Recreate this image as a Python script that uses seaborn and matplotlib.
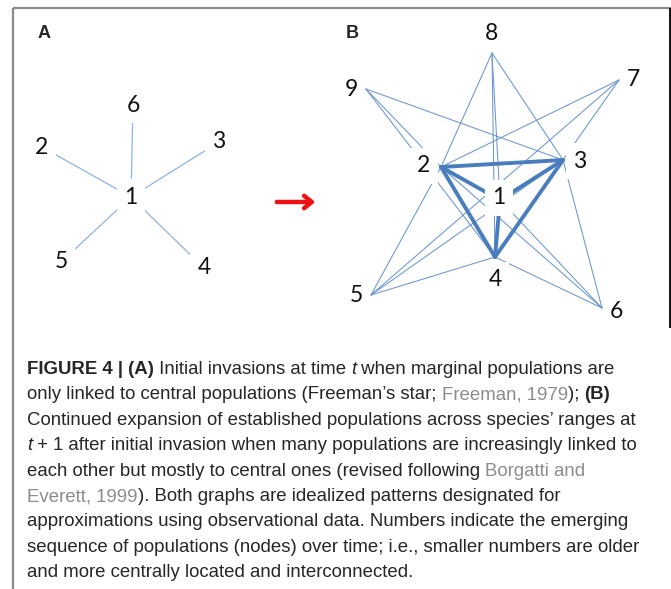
import matplotlib
matplotlib.use("Agg")
import matplotlib.pyplot as plt
import seaborn as sns
import pandas as pd


# --- panel A: Freeman's star (node = where the number sits) ---
a_labels = ["1", "2", "3", "4", "5", "6"]
a_x = [131, 42, 219, 204, 61, 133]
a_y = [197, 147, 142, 268, 262, 105]
a_edges = [("1", "2"), ("1", "3"), ("1", "4"), ("1", "5"), ("1", "6")]

# --- panel B: line anchors of the nodes and the spots of their numbers ---
b_labels = ["1", "2", "3", "4", "5", "6", "7", "8", "9"]
b_x = [500, 441, 563, 495, 371, 602, 619, 492, 366]
b_y = [200, 167, 160, 257, 295, 308, 80, 53, 89]
b_text_x = [499, 424, 580, 495, 356, 616, 633, 491, 351]
b_text_y = [198, 166, 161, 280, 296, 312, 80, 33, 90]
b_masked = ["1", "2", "3", "4"]  # numbers that sit on a white patch over the lines
b_thin = [("8", "2"), ("8", "3"), ("8", "1"), ("8", "4"),
          ("9", "2"), ("9", "4"), ("9", "3"),
          ("7", "2"), ("7", "5"), ("7", "4"),
          ("5", "2"), ("5", "3"), ("5", "4"),
          ("6", "3"), ("6", "2"), ("6", "1"), ("6", "4")]
b_thick = [("2", "3"), ("2", "4"), ("3", "4"), ("2", "1"), ("3", "1"), ("4", "1")]

# --- caption, one list of (text, style) runs per printed line ---
caption = [
    [("FIGURE 4 | (A)", "b"), (" Initial invasions at time ", "n"), ("t", "i"),
     (" when marginal populations are", "n")],
    [("only linked to central populations (Freeman\u2019s star; ", "n"), ("Freeman, 1979", "g"),
     ("); ", "n"), ("(B)", "b")],
    [("Continued expansion of established populations across species\u2019 ranges at", "n")],
    [("t", "i"), (" + 1 after initial invasion when many populations are increasingly linked to", "n")],
    [("each other but mostly to central ones (revised following ", "n"), ("Borgatti and", "g")],
    [("Everett, 1999", "g"), ("). Both graphs are idealized patterns designated for", "n")],
    [("approximations using observational data. Numbers indicate the emerging", "n")],
    [("sequence of populations (nodes) over time; i.e., smaller numbers are older", "n")],
    [("and more centrally located and interconnected.", "n")],
]


def edge_frame(edges, names, xs, ys):
    pos = dict(zip(names, zip(xs, ys)))
    rows = []
    for i, (a, b) in enumerate(edges):
        for n in (a, b):
            rows.append({"edge": i, "x": pos[n][0], "y": pos[n][1]})
    return pd.DataFrame(rows)


sns.set_style("white")
fig = plt.figure(figsize=(6.71, 5.89), dpi=100)
ax = fig.add_axes([0, 0, 1, 1])

# edges
sns.lineplot(data=edge_frame(a_edges, a_labels, a_x, a_y), x="x", y="y", units="edge",
             estimator=None, sort=False, color="#8db4e2", linewidth=0.9, ax=ax)
sns.lineplot(data=edge_frame(b_thin, b_labels, b_x, b_y), x="x", y="y", units="edge",
             estimator=None, sort=False, color="#6a96d1", linewidth=0.75, ax=ax)
sns.lineplot(data=edge_frame(b_thick, b_labels, b_x, b_y), x="x", y="y", units="edge",
             estimator=None, sort=False, color="#4a7dbd", linewidth=2.8, ax=ax,
             solid_capstyle="round")

num_font = dict(family="Lato", fontsize=16.5, ha="center", va="center", color="#111111", zorder=5)
mask = dict(boxstyle="square,pad=0.33", fc="white", ec="none")
for lab, x, y in zip(a_labels, a_x, a_y):
    ax.text(x, y, lab, bbox=mask, **num_font)
for lab, x, y in zip(b_labels, b_text_x, b_text_y):
    ax.text(x, y, lab, bbox=mask if lab in b_masked else None, **num_font)

ax.text(44, 34, "A", family="Liberation Sans", fontweight="bold", fontsize=13,
        ha="center", va="center")
ax.text(352, 34, "B", family="Liberation Sans", fontweight="bold", fontsize=13,
        ha="center", va="center")

# red arrow between the panels
ax.annotate("", xy=(318, 202), xytext=(274, 202),
            arrowprops=dict(arrowstyle="->,head_length=0.55,head_width=0.45",
                            color="#ee1111", lw=3.2))

# frame lines of the figure box
ax.plot([13, 671], [8, 8], color="#8a8a8a", lw=1.6, solid_capstyle="butt")
ax.plot([13, 13], [8, 589], color="#8a8a8a", lw=1.6, solid_capstyle="butt")
ax.plot([670, 670], [8, 328], color="#111111", lw=1.4, solid_capstyle="butt")

ax.set_xlim(0, 671)
ax.set_ylim(589, 0)
ax.axis("off")

# caption, laid out run by run
styles = {
    "n": dict(color="#262626"),
    "b": dict(color="#262626", fontweight="bold"),
    "i": dict(color="#262626", fontstyle="italic"),
    "g": dict(color="#8c8c8c"),
}
cap_font = dict(family="Liberation Sans", fontsize=13.4)
renderer = fig.canvas.get_renderer()


def run_width(s, st):
    t1 = ax.text(0, 0, "|" + s + "|", **cap_font, **styles[st])
    t2 = ax.text(0, 0, "||", **cap_font, **styles[st])
    w = t1.get_window_extent(renderer).width - t2.get_window_extent(renderer).width
    t1.remove()
    t2.remove()
    return w


for i, line in enumerate(caption):
    x = 27
    y = 374 + i * 25.4
    for s, st in line:
        ax.text(x, y, s, ha="left", va="baseline", **cap_font, **styles[st])
        x += run_width(s, st)

fig.savefig("out.png", dpi=100)
